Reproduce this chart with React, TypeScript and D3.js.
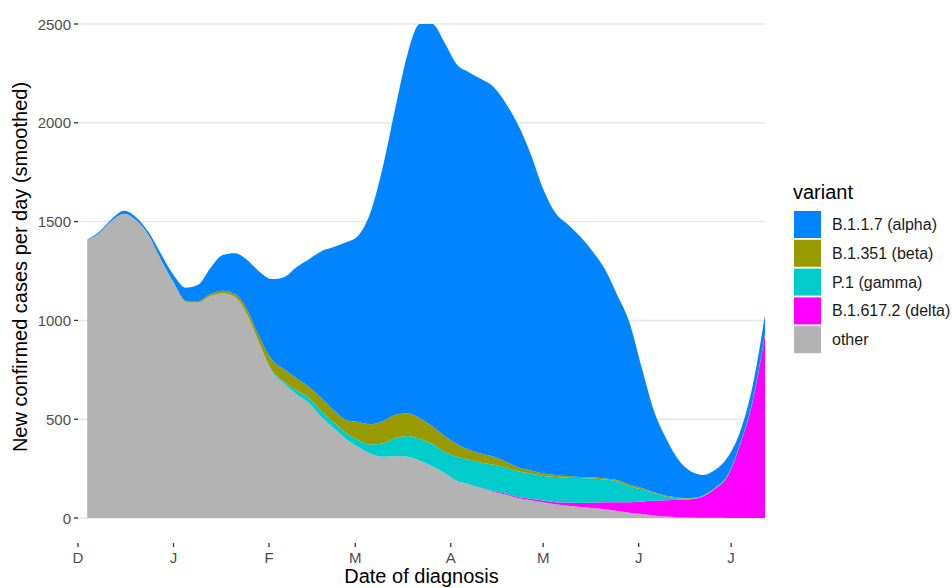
import * as d3 from 'd3';

// Smoothed daily case counts by variant, every 4 days
const dates = [
  '2020-12-04', '2020-12-08', '2020-12-12', '2020-12-16', '2020-12-20', '2020-12-24', '2020-12-28',
  '2021-01-01', '2021-01-05', '2021-01-09', '2021-01-13', '2021-01-17', '2021-01-21', '2021-01-25',
  '2021-01-29', '2021-02-02', '2021-02-06', '2021-02-10', '2021-02-14', '2021-02-18', '2021-02-22',
  '2021-02-26', '2021-03-02', '2021-03-06', '2021-03-10', '2021-03-14', '2021-03-18', '2021-03-22',
  '2021-03-26', '2021-03-30', '2021-04-03', '2021-04-07', '2021-04-11', '2021-04-15', '2021-04-19',
  '2021-04-23', '2021-04-27', '2021-05-01', '2021-05-05', '2021-05-09', '2021-05-13', '2021-05-17',
  '2021-05-21', '2021-05-25', '2021-05-29', '2021-06-02', '2021-06-06', '2021-06-10', '2021-06-14',
  '2021-06-18', '2021-06-22', '2021-06-26', '2021-06-30', '2021-07-04', '2021-07-08', '2021-07-12',
];

const other = [
  1408, 1442, 1505, 1540, 1505, 1430, 1305, 1192, 1095, 1090, 1123, 1138, 1118, 1027,
  875, 740, 680, 625, 582, 511, 455, 400, 359, 325, 310, 312, 310, 290,
  262, 228, 188, 170, 150, 132, 118, 100, 90, 80, 70, 62, 56, 50,
  44, 35, 27, 20, 13, 7, 4, 2, 1, 1, 0, 0, 0, 0,
];
const delta = [
  0, 0, 0, 0, 0, 0, 0, 0, 0, 0, 0, 0, 0, 0,
  0, 0, 0, 0, 0, 0, 0, 0, 0, 0, 0, 0, 0, 0,
  0, 0, 0, 0, 2, 4, 5, 6, 7, 8, 10, 16, 20, 28,
  36, 45, 53, 62, 75, 83, 88, 93, 109, 149, 215, 375, 590, 930,
];
const gamma = [
  0, 0, 0, 0, 0, 0, 0, 0, 0, 0, 0, 0, 0, 0,
  3, 5, 10, 20, 25, 30, 31, 30, 36, 47, 67, 93, 105, 110,
  113, 107, 122, 125, 128, 134, 132, 129, 128, 124, 127, 126, 126, 122,
  115, 105, 80, 63, 37, 18, 8, 4, 3, 3, 3, 3, 3, 3,
];
const beta = [
  0, 0, 0, 0, 0, 0, 1, 2, 5, 8, 10, 12, 15, 25,
  33, 55, 62, 62, 56, 66, 60, 66, 91, 103, 113, 117, 115, 105,
  90, 80, 65, 50, 45, 40, 30, 20, 15, 13, 11, 8, 6, 6,
  5, 7, 8, 7, 5, 4, 3, 2, 2, 2, 2, 2, 2, 2,
];
const alpha = [
  2, 8, 10, 15, 15, 15, 29, 36, 65, 82, 132, 181, 207, 253,
  334, 409, 468, 563, 647, 743, 825, 899, 944, 1075, 1290, 1553, 1820, 1995,
  2035, 1990, 1920, 1910, 1895, 1870, 1810, 1730, 1600, 1440, 1325, 1273, 1217, 1144,
  1060, 938, 822, 608, 410, 288, 189, 134, 103, 90, 90, 60, 75, 92,
];

const variantKeys = ['alpha', 'beta', 'gamma', 'delta', 'other'];
const variantLabels = ['B.1.1.7 (alpha)', 'B.1.351 (beta)', 'P.1 (gamma)', 'B.1.617.2 (delta)', 'other'];
const variantColors = ['#0084FF', '#999900', '#00CCCC', '#FF00FF', '#B3B3B3'];

const xTickDates = ['2020-12-01', '2021-01-01', '2021-02-01', '2021-03-01', '2021-04-01', '2021-05-01', '2021-06-01', '2021-07-01'];
const xTickLabels = ['D', 'J', 'F', 'M', 'A', 'M', 'J', 'J'];
const yTicks = [0, 500, 1000, 1500, 2000, 2500];

const width = 952;
const height = 588;
const panel = { left: 78, right: 765, top: 0, bottom: 543 };
const font = '"Liberation Sans", Arial, Helvetica, sans-serif';

export default function App() {
  const parse = d3.timeParse('%Y-%m-%d');
  const series: Record<string, number[]> = { alpha, beta, gamma, delta, other };

  const rows = dates.map((d, i) => {
    const row: any = { date: parse(d) as Date };
    variantKeys.forEach((k) => (row[k] = series[k][i]));
    return row;
  });

  const x = d3
    .scaleTime()
    .domain([parse('2020-12-01') as Date, parse('2021-07-12') as Date])
    .range([panel.left, panel.right]);

  const y = d3.scaleLinear().domain([0, 2500]).range([518, 24]);

  // stack bottom to top: other, delta, gamma, beta, alpha
  const stackOrder = [...variantKeys].reverse();
  const stacked = d3.stack().keys(stackOrder)(rows);

  const area = d3
    .area<any>()
    .x((d) => x(d.data.date))
    .y0((d) => y(d[0]))
    .y1((d) => y(d[1]))
    .curve(d3.curveMonotoneX);

  const colorOf = (k: string) => variantColors[variantKeys.indexOf(k)];

  return (
    <svg
      width={width}
      height={height}
      style={{ position: 'absolute', left: 0, top: 0, background: '#fff' }}
      fontFamily={font}
    >
      {/* grid */}
      {yTicks.map((t) => (
        <line key={t} x1={panel.left} x2={panel.right} y1={y(t)} y2={y(t)} stroke="#E6E6E6" strokeWidth={1.5} />
      ))}

      {/* areas */}
      {stacked.map((layer) => (
        <path key={layer.key} d={area(layer as any) || ''} fill={colorOf(layer.key)} />
      ))}

      {/* y axis */}
      {yTicks.map((t) => (
        <g key={t}>
          <line x1={panel.left - 4} x2={panel.left} y1={y(t)} y2={y(t)} stroke="#333" strokeWidth={1.3} />
          <text x={panel.left - 7} y={y(t) + 5.5} textAnchor="end" fontSize={15} fill="#4D4D4D">
            {t}
          </text>
        </g>
      ))}

      {/* x axis */}
      {xTickDates.map((d, i) => {
        const px = x(parse(d) as Date);
        return (
          <g key={d}>
            <line x1={px} x2={px} y1={panel.bottom} y2={panel.bottom + 4} stroke="#333" strokeWidth={1.3} />
            <text x={px} y={563} textAnchor="middle" fontSize={15} fill="#4D4D4D">
              {xTickLabels[i]}
            </text>
          </g>
        );
      })}

      {/* axis titles */}
      <text x={(panel.left + panel.right) / 2} y={583} textAnchor="middle" fontSize={20} fill="#000">
        Date of diagnosis
      </text>
      <text
        transform={`translate(27,${267}) rotate(-90)`}
        textAnchor="middle"
        fontSize={20}
        fill="#000"
      >
        New confirmed cases per day (smoothed)
      </text>

      {/* legend */}
      <text x={793} y={199} fontSize={20} fill="#000">
        variant
      </text>
      {variantKeys.map((k, i) => {
        const top = 211 + i * 28.8;
        return (
          <g key={k}>
            <rect x={794} y={top} width={27} height={27} fill={variantColors[i]} />
            <text x={832} y={top + 19} fontSize={16} fill="#1A1A1A">
              {variantLabels[i]}
            </text>
          </g>
        );
      })}
    </svg>
  );
}
